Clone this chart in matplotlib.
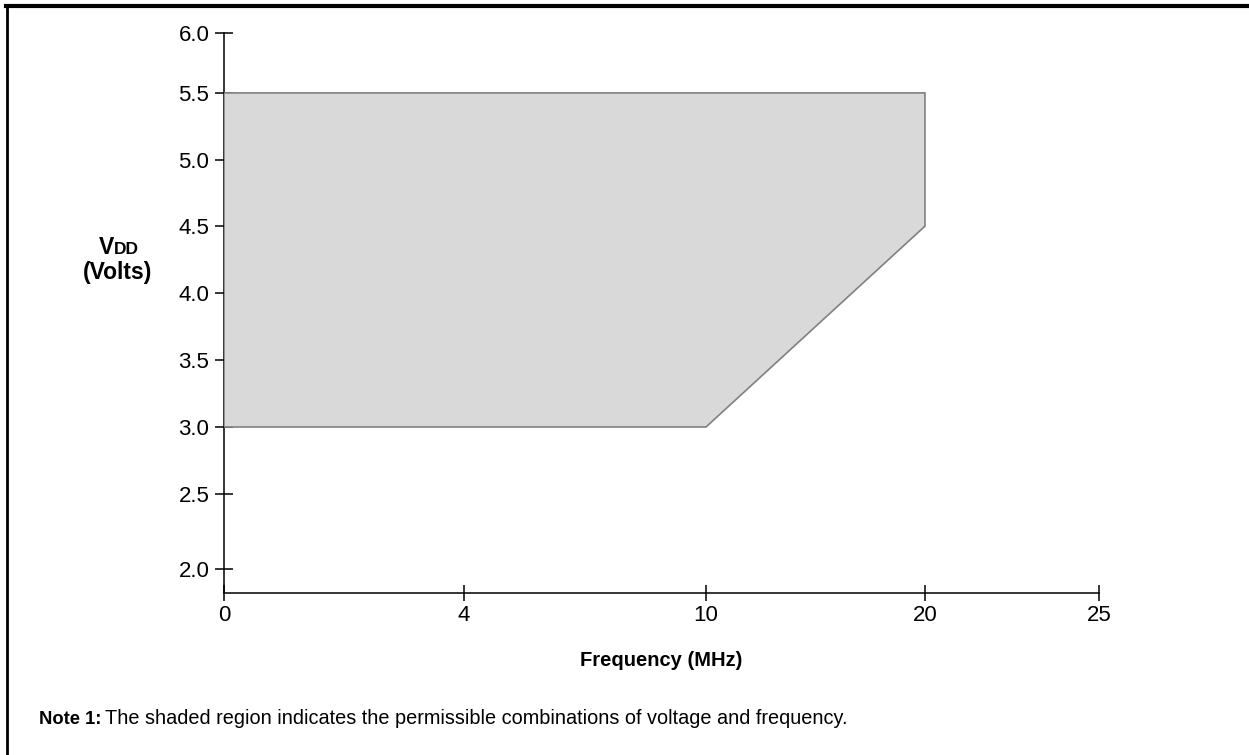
"""plot.py
operating region of vdd vs frequency, datasheet style
"""

import numpy as np

import matplotlib
matplotlib.use('Agg')
from matplotlib import pyplot as plt
from matplotlib.lines import Line2D


# data
freqTicks = [0, 4, 10, 20, 25]
voltTicks = [2.0, 2.5, 3.0, 3.5, 4.0, 4.5, 5.0, 5.5, 6.0]

regionFreq = [0, 10, 20, 20, 0]
regionVolt = [3.0, 3.0, 4.5, 5.5, 5.5]

# axis layout: the printed axes are not evenly spaced, so map each tick to its
# place along the axis (fraction of the axis length)
xKnots = [0, 4, 10, 20, 25]
xFrac = [0.0, 0.2743, 0.5509, 0.8011, 1.0]
yKnots = [1.82, 2.0, 2.5, 3.0, 3.5, 4.0, 4.5, 5.0, 5.5, 6.0]
yFrac = [0.0, 0.0429, 0.1768, 0.2964, 0.416, 0.5357, 0.655, 0.773, 0.893, 1.0]


def piecewise_scale(knots, frac):
  fwd = lambda v: np.interp(v, knots, frac)
  inv = lambda v: np.interp(v, frac, knots)
  return fwd, inv


plt.rcParams['font.family'] = ['Liberation Sans', 'DejaVu Sans']

fig = plt.figure(figsize=(12.49, 7.55), dpi=100)
ax = fig.add_axes([0.1793, 0.2146, 0.7006, 0.7417])

ax.set_xscale('function', functions=piecewise_scale(xKnots, xFrac))
ax.set_yscale('function', functions=piecewise_scale(yKnots, yFrac))
ax.set_xlim(xKnots[0], xKnots[-1])
ax.set_ylim(yKnots[0], yKnots[-1])

ax.fill(regionFreq, regionVolt, facecolor='#d9d9d9', edgecolor='#808080',
        linewidth=1.2, zorder=3)

ax.set_xticks(freqTicks)
ax.set_xticklabels([str(f) for f in freqTicks])
ax.set_yticks(voltTicks)
ax.set_yticklabels(['%.1f' % v for v in voltTicks])
ax.minorticks_off()

ax.tick_params(axis='y', direction='inout', length=13, width=1.1, pad=4,
               labelsize=16, colors='black')
ax.tick_params(axis='x', direction='inout', length=11, width=1.1, pad=3,
               labelsize=16, colors='black')

for side in ('top', 'right'):
  ax.spines[side].set_visible(False)
for side in ('left', 'bottom'):
  ax.spines[side].set_linewidth(1.1)
  ax.spines[side].set_color('black')

# labels
fig.text(114 / 1249, 1 - 248 / 755, 'V', fontsize=16.5, fontweight='bold',
         ha='right', va='center')
fig.text(114 / 1249, 1 - 250 / 755, 'DD', fontsize=12.5, fontweight='bold',
         ha='left', va='center')
fig.text(118 / 1249, 1 - 273 / 755, '(Volts)', fontsize=16.5, fontweight='bold',
         ha='center', va='center')

fig.text(661 / 1249, 1 - 661 / 755, 'Frequency (MHz)', fontsize=14.5,
         fontweight='bold', ha='center', va='center')

fig.text(39 / 1249, 1 - 724 / 755, 'Note 1:', fontsize=13.2,
         fontweight='bold', ha='left', va='baseline')
fig.text(105 / 1249, 1 - 724 / 755,
         'The shaded region indicates the permissible combinations of voltage and frequency.',
         fontsize=14.3, ha='left', va='baseline')

# page frame
fig.add_artist(Line2D([6 / 1249, 1.0], [1 - 5.5 / 755, 1 - 5.5 / 755],
                      transform=fig.transFigure, color='black', linewidth=3))
fig.add_artist(Line2D([7 / 1249, 7 / 1249], [0.0, 1 - 5.5 / 755],
                      transform=fig.transFigure, color='black', linewidth=2))

fig.savefig('out.png', dpi=100)
